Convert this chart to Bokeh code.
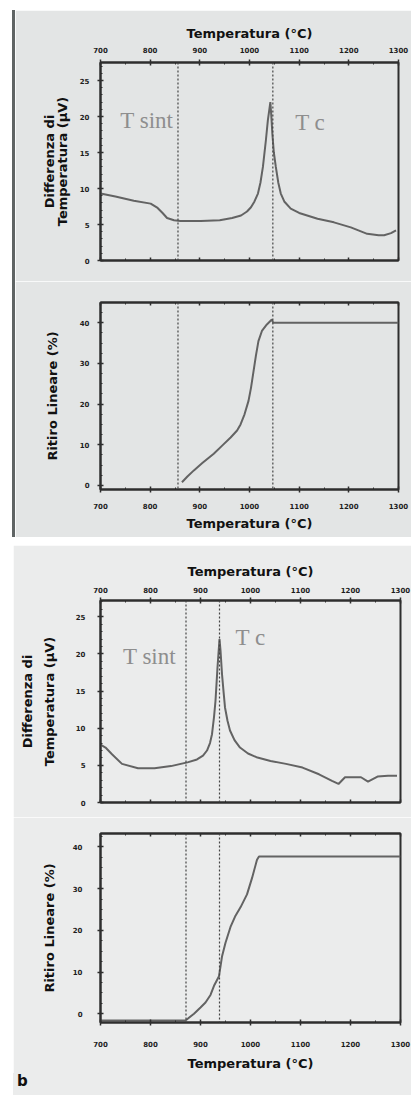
from bokeh.plotting import figure
from bokeh.models import Span, Label, LinearAxis, Spacer, SingleIntervalTicker, Range1d, Div
from bokeh.layouts import column, row
from bokeh.embed import file_html
from bokeh.resources import INLINE

# ---------------- data ----------------
# chart (a) - DTA signal
temp_a_dta = [700, 730, 767, 801, 815, 825, 834, 848, 861, 902, 940, 965, 983, 995, 1003, 1010,
              1017, 1022, 1027, 1033, 1037, 1040, 1042, 1044, 1046, 1049, 1053, 1058, 1063, 1070,
              1083, 1100, 1137, 1170, 1204, 1237, 1260, 1271, 1285, 1295]
dta_a = [9.3, 8.9, 8.3, 7.9, 7.3, 6.6, 5.9, 5.6, 5.5, 5.5, 5.6, 5.9, 6.25, 6.8, 7.4, 8.2,
         9.3, 10.8, 13.0, 16.7, 19.5, 21.0, 22.0, 20.0, 17.6, 15.0, 13.0, 10.8, 9.3, 8.2,
         7.2, 6.6, 5.8, 5.3, 4.6, 3.7, 3.5, 3.5, 3.8, 4.2]
# chart (a) - linear shrinkage
temp_a_rit = [864, 875, 888, 905, 928, 945, 962, 975, 982, 990, 998, 1003, 1008, 1013, 1018,
              1025, 1035, 1045, 1048, 1300]
rit_a = [0.8, 2.2, 3.7, 5.5, 7.8, 9.8, 11.8, 13.5, 15.0, 17.5, 20.8, 24.0, 28.0, 32.0, 35.5,
         38.0, 39.6, 40.8, 40.0, 40.0]
tsint_a, tc_a = 856, 1047

# chart (b) - DTA signal
temp_b_dta = [700, 710, 723, 743, 775, 808, 841, 874, 893, 905, 913, 919, 923, 927, 930, 934,
              938, 940, 943, 946, 949, 954, 959, 968, 979, 995, 1012, 1040, 1071, 1104, 1137,
              1163, 1176, 1189, 1205, 1221, 1235, 1254, 1275, 1293]
dta_b = [7.8, 7.4, 6.5, 5.2, 4.6, 4.6, 4.9, 5.4, 5.8, 6.3, 7.0, 8.0, 9.2, 11.5, 13.7, 18.2,
         22.0, 20.5, 17.3, 15.0, 12.8, 11.0, 9.7, 8.4, 7.4, 6.6, 6.1, 5.6, 5.2, 4.7, 3.8,
         2.9, 2.5, 3.4, 3.4, 3.4, 2.8, 3.5, 3.6, 3.6]
# chart (b) - linear shrinkage
temp_b_rit = [700, 870, 887, 900, 910, 920, 927, 937, 943, 950, 960, 970, 980, 993, 1003, 1013,
              1017, 1300]
rit_b = [-1.6, -1.6, 0.0, 1.5, 2.7, 4.5, 6.7, 9.0, 13.7, 17.0, 20.8, 23.5, 25.5, 28.6, 32.5,
         36.9, 37.7, 37.7]
tsint_b, tc_b = 871, 938

x_title = "Temperatura (°C)"
dta_title = "Differenza di\nTemperatura (μV)"
rit_title = "Ritiro Lineare (%)"
panel_letter = "b"

# ---------------- style ----------------
BG1 = "#e3e5e5"
BG2 = "#ebecec"
AX = "#2e2e2e"
CURVE = "#636363"
TXT = "#8e8e8e"
FONT = "DejaVu Sans"


def make_fig(width, height, top, bottom, left, frame_w, yr, bg):
    p = figure(width=width, height=height, x_range=Range1d(700, 1300), y_range=Range1d(*yr),
               output_backend="svg", toolbar_location=None, title=None,
               x_axis_location=None, y_axis_location=None,
               min_border_top=top, min_border_bottom=bottom, min_border_left=left,
               min_border_right=width - left - frame_w)
    p.background_fill_color = bg
    p.border_fill_color = bg
    p.outline_line_color = AX
    p.outline_line_width = 2
    p.xgrid.visible = False
    p.ygrid.visible = False
    return p


def style_axis(ax, labeled, standoff=5, title=None, title_standoff=5, line_height=1.2, tick_out=3):
    ax.axis_line_color = AX
    ax.axis_line_width = 2
    ax.major_tick_line_color = AX
    ax.major_tick_line_width = 1.5
    ax.minor_tick_line_color = AX
    ax.minor_tick_line_width = 1
    ax.major_tick_in = 3
    ax.major_tick_out = tick_out if labeled else 0
    ax.minor_tick_in = 2
    ax.minor_tick_out = 0
    ax.major_label_text_font = FONT
    ax.major_label_text_font_size = "7px"
    ax.major_label_text_font_style = "bold"
    if labeled:
        ax.major_label_text_color = "#1e1e1e"
        ax.major_label_standoff = standoff
    else:
        ax.major_label_text_color = None
        ax.major_label_standoff = 0
    if title:
        ax.axis_label = title
        ax.axis_label_text_font = FONT
        ax.axis_label_text_font_size = "13px"
        ax.axis_label_text_font_style = "bold"
        ax.axis_label_text_color = "#111111"
        ax.axis_label_standoff = title_standoff
        ax.axis_label_text_line_height = line_height


def xaxis(p, where, labeled, **kw):
    ax = LinearAxis(ticker=SingleIntervalTicker(interval=100, num_minor_ticks=2))
    style_axis(ax, labeled, **kw)
    p.add_layout(ax, where)


def yaxis(p, interval, minor, **kw):
    ax = LinearAxis(ticker=SingleIntervalTicker(interval=interval, num_minor_ticks=minor))
    style_axis(ax, True, **kw)
    p.add_layout(ax, "left")


def vlines(p, xs):
    for xv in xs:
        p.add_layout(Span(location=xv, dimension="height", line_color="#444444",
                          line_width=1.2, line_dash="2 2"))


def tlabel(p, x, y, text):
    p.add_layout(Label(x=x, y=y, text=text, text_font="Liberation Serif",
                       text_font_size="23px", text_color=TXT, text_baseline="alphabetic"))


# ---------------- chart (a) ----------------
WA = 396
pA = make_fig(WA, 271, 52, 21, 85, 298, (0, 27.5), BG1)
xaxis(pA, "above", True, standoff=7, title=x_title, title_standoff=3)
xaxis(pA, "below", False)
yaxis(pA, 5, 5, standoff=8, title=dta_title, title_standoff=7, line_height=0.85)
vlines(pA, [tsint_a, tc_a])
pA.line(temp_a_dta, dta_a, line_color=CURVE, line_width=2)
tlabel(pA, 740, 19.4, "T sint")
tlabel(pA, 1092, 19.2, "T c")

pB = make_fig(WA, 256, 21, 48, 85, 300, (-1, 45), BG1)
xaxis(pB, "below", True, standoff=10, title=x_title, title_standoff=4)
xaxis(pB, "above", False)
yaxis(pB, 10, 4, standoff=8, title=rit_title, title_standoff=17)
vlines(pB, [tsint_a, tc_a])
pB.line(temp_a_rit, rit_a, line_color=CURVE, line_width=2)

# ---------------- chart (b) ----------------
WB = 398
pC = make_fig(WB, 272, 55, 15, 82, 305, (0, 27.2), BG2)
xaxis(pC, "above", True, standoff=5, title=x_title, title_standoff=5)
xaxis(pC, "below", False)
yaxis(pC, 5, 5, standoff=12, title=dta_title, title_standoff=16, line_height=1.45)
vlines(pC, [tsint_b, tc_b])
pC.line(temp_b_dta, dta_b, line_color=CURVE, line_width=2)
tlabel(pC, 745, 19.7, "T sint")
tlabel(pC, 970, 22.2, "T c")

pD = make_fig(WB, 256, 16, 49, 87, 300, (-2.1, 43.2), BG2)
xaxis(pD, "below", True, standoff=15, title=x_title, title_standoff=6)
xaxis(pD, "above", False)
yaxis(pD, 10, 4, standoff=15, title=rit_title, title_standoff=13)
vlines(pD, [tsint_b, tc_b])
pD.line(temp_b_rit, rit_b, line_color=CURVE, line_width=2)

letter = Div(text=panel_letter, width=WB, height=22, margin=0,
             styles={"background-color": BG2, "font-family": FONT, "font-weight": "bold",
                     "font-size": "15px", "line-height": "16px", "padding-left": "4px",
                     "box-sizing": "border-box", "color": "#111111"})

stripe = Div(text="", width=3, height=527, margin=0, styles={"background-color": "#5f6464"})

top_chart = row(Spacer(width=12, height=527), stripe, column(pA, pB, spacing=0), spacing=0)
bottom_chart = row(Spacer(width=13, height=550), column(pC, pD, letter, spacing=0), spacing=0)

layout = column(Spacer(width=411, height=10), top_chart, Spacer(width=411, height=8),
                bottom_chart, spacing=0)

open("out.html", "w").write(file_html(layout, INLINE))
